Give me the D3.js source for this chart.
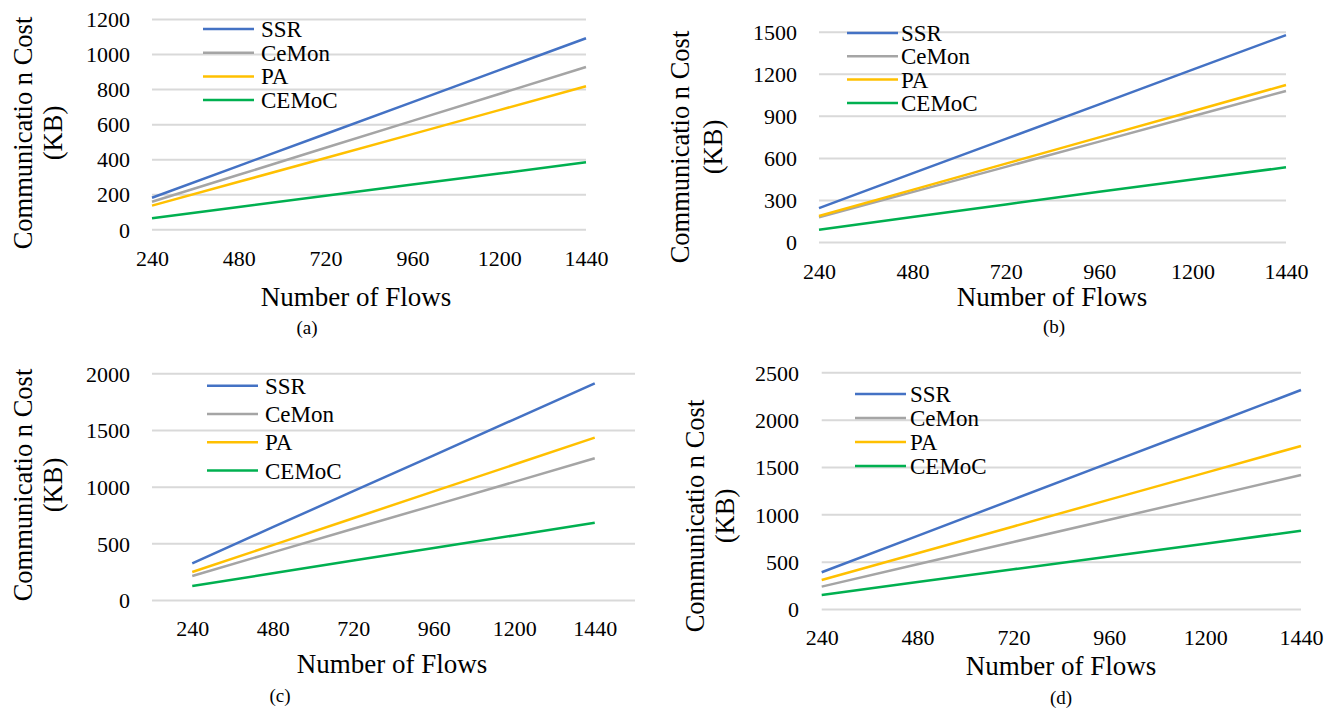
<!DOCTYPE html>
<html>
<head>
<meta charset="utf-8">
<script src="https://cdn.jsdelivr.net/npm/d3@7"></script>
<style>
  body { margin: 0; background: #fff; }
</style>
</head>
<body>
<div id="chart"></div>
<script>
// Number of flows (category axis, same for all four panels)
var flows = [240, 480, 720, 960, 1200, 1440];
var seriesNames = ["SSR", "CeMon", "PA", "CEMoC"];
var seriesColors = ["#4472C4", "#A5A5A5", "#FFC000", "#00B050"];

// panel (a)
var ssrA   = [180, 362, 544, 726, 908, 1090];
var ceMonA = [157, 311, 465, 619, 772, 926];
var paA    = [135, 271, 407, 543, 680, 816];
var cemocA = [63, 127, 191, 255, 318, 382];

// panel (b)
var ssrB   = [242, 489, 736, 982, 1229, 1476];
var ceMonB = [176, 356, 536, 716, 897, 1077];
var paB    = [185, 372, 559, 746, 933, 1120];
var cemocB = [88, 178, 268, 358, 445, 533];

// panel (c)
var ssrC   = [324, 642, 960, 1276, 1594, 1912];
var ceMonC = [212, 420, 628, 835, 1042, 1250];
var paC    = [247, 484, 721, 958, 1195, 1432];
var cemocC = [124, 236, 348, 459, 570, 682];

// panel (d)
var ssrD   = [388, 773, 1158, 1543, 1928, 2313];
var ceMonD = [236, 472, 708, 943, 1179, 1415];
var paD    = [306, 589, 872, 1155, 1438, 1722];
var cemocD = [148, 284, 420, 555, 690, 827];

var captions = ["(a)", "(b)", "(c)", "(d)"];
var xTitle = "Number of Flows";
var yTitle1 = "Communicatio n Cost";
var yTitle2 = "(KB)";

var svgWidth = 1337;
var svgHeight = 709;
var serif = "'Liberation Serif', 'Times New Roman', Times, serif";

var svg = d3.select("#chart")
  .append("svg")
  .attr("width", svgWidth)
  .attr("height", svgHeight)
  .attr("font-family", serif);

// layout of each panel
var panels = [
  { data: [ssrA, ceMonA, paA, cemocA], yMax: 1200, yStep: 200,
    x0: 152, x1: 586, top: 19, bottom: 229.3, pad: 0,
    yLabelRight: 130, xLabelY: 258,
    legX: 203, legY: 29, legStep: 23.7, legGap: 7,
    titleX: 356, titleY: 297, capX: 307, capY: 327,
    yt1: 23, yt2: 53, ytY: 133 },
  { data: [ssrB, ceMonB, paB, cemocB], yMax: 1500, yStep: 300,
    x0: 819, x1: 1286, top: 31.7, bottom: 242, pad: 0,
    yLabelRight: 797, xLabelY: 271,
    legX: 847, legY: 33, legStep: 23.3, legGap: 3,
    titleX: 1052, titleY: 297, capX: 1054, capY: 326,
    yt1: 680, yt2: 713, ytY: 147 },
  { data: [ssrC, ceMonC, paC, cemocC], yMax: 2000, yStep: 500,
    x0: 152, x1: 635, top: 373.3, bottom: 600, pad: 0.5,
    yLabelRight: 130, xLabelY: 628,
    legX: 207, legY: 385.7, legStep: 28.3, legGap: 7,
    titleX: 392, titleY: 664, capX: 280, capY: 695,
    yt1: 23, yt2: 53, ytY: 485 },
  { data: [ssrD, ceMonD, paD, cemocD], yMax: 2500, yStep: 500,
    x0: 821.7, x1: 1301, top: 372.3, bottom: 609, pad: 0,
    yLabelRight: 799, xLabelY: 637.7,
    legX: 855, legY: 394, legStep: 24, legGap: 4,
    titleX: 1061, titleY: 666, capX: 1061, capY: 697,
    yt1: 695, yt2: 725, ytY: 516 }
];

panels.forEach(function(p, pi) {
  var g = svg.append("g");

  var xScale = d3.scalePoint()
    .domain(flows)
    .range([p.x0, p.x1])
    .padding(p.pad);

  var yScale = d3.scaleLinear()
    .domain([0, p.yMax])
    .range([p.bottom, p.top]);

  // y axis with gridlines
  var yAxis = d3.axisLeft(yScale)
    .tickValues(d3.range(0, p.yMax + 1, p.yStep))
    .tickFormat(d3.format("d"))
    .tickSize(-(p.x1 - p.x0))
    .tickPadding(p.x0 - p.yLabelRight);

  var yg = g.append("g")
    .attr("transform", `translate(${p.x0}, 0)`)
    .call(yAxis)
    .attr("font-family", serif)
    .attr("font-size", 22);
  yg.select(".domain").remove();
  yg.selectAll("line")
    .attr("stroke", "#d9d9d9")
    .attr("stroke-width", 2);
  yg.selectAll("text")
    .attr("dy", "0.35em")
    .attr("fill", "#000");

  // x axis labels
  var xAxis = d3.axisBottom(xScale).tickSize(0);
  var xg = g.append("g")
    .attr("transform", `translate(0, ${p.bottom})`)
    .call(xAxis)
    .attr("font-family", serif)
    .attr("font-size", 22);
  xg.select(".domain").remove();
  xg.selectAll("text")
    .attr("y", p.xLabelY - p.bottom)
    .attr("dy", "0.35em")
    .attr("fill", "#000");

  // lines
  var line = d3.line()
    .x(function(d, i) { return xScale(flows[i]); })
    .y(function(d) { return yScale(d); });

  p.data.forEach(function(vals, si) {
    g.append("path")
      .attr("d", line(vals))
      .attr("fill", "none")
      .attr("stroke", seriesColors[si])
      .attr("stroke-width", 2.5);
  });

  // legend
  var leg = g.selectAll(".leg")
    .data(seriesNames)
    .enter()
    .append("g")
    .attr("transform", function(d, i) { return `translate(${p.legX}, ${p.legY + i * p.legStep})`; });
  leg.append("line")
    .attr("x1", 0).attr("x2", 51)
    .attr("y1", 0).attr("y2", 0)
    .attr("stroke", function(d, i) { return seriesColors[i]; })
    .attr("stroke-width", 2.5);
  leg.append("text")
    .attr("x", 51 + p.legGap)
    .attr("dy", "0.35em")
    .attr("font-size", "23px")
    .attr("fill", "#000")
    .text(function(d) { return d; });

  // axis titles
  g.append("text")
    .attr("x", p.titleX)
    .attr("y", p.titleY)
    .attr("dy", "0.35em")
    .attr("text-anchor", "middle")
    .attr("font-size", "27px")
    .attr("fill", "#000")
    .text(xTitle);

  g.append("text")
    .attr("transform", `translate(${p.yt1}, ${p.ytY}) rotate(-90)`)
    .attr("dy", "0.35em")
    .attr("text-anchor", "middle")
    .attr("font-size", "26.5px")
    .attr("fill", "#000")
    .text(yTitle1);
  g.append("text")
    .attr("transform", `translate(${p.yt2}, ${p.ytY}) rotate(-90)`)
    .attr("dy", "0.35em")
    .attr("text-anchor", "middle")
    .attr("font-size", "26.5px")
    .attr("fill", "#000")
    .text(yTitle2);

  // caption
  g.append("text")
    .attr("x", p.capX)
    .attr("y", p.capY)
    .attr("dy", "0.35em")
    .attr("text-anchor", "middle")
    .attr("font-size", "19px")
    .attr("fill", "#000")
    .text(captions[pi]);
});
</script>
</body>
</html>
